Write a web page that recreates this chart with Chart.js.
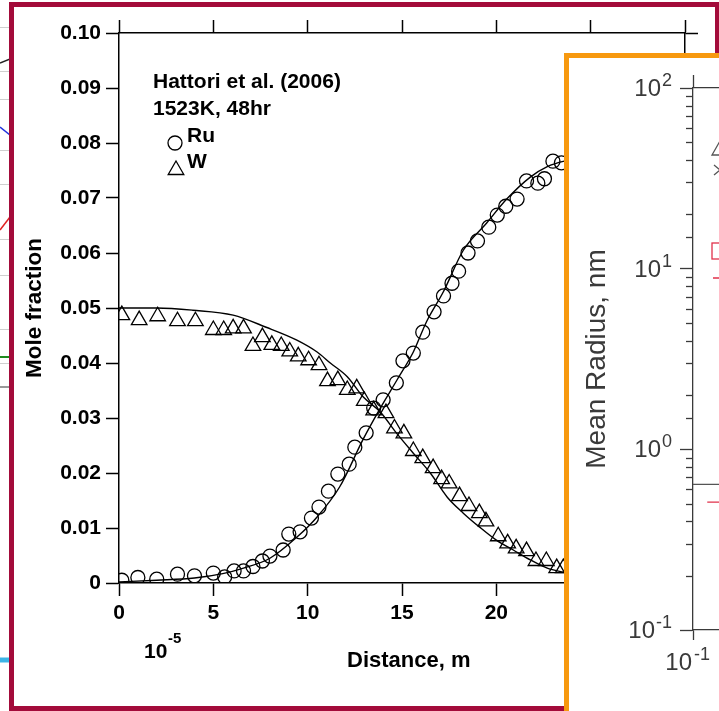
<!DOCTYPE html>
<html>
<head>
<meta charset="utf-8">
<script src="https://cdn.jsdelivr.net/npm/chart.js@4.4.1/dist/chart.umd.min.js"></script>
<style>
  html, body { margin: 0; padding: 0; background: #fff; overflow: hidden; }
  body { width: 719px; height: 711px; position: relative; }
  #bgWrap { position: absolute; left: 0; top: 0; width: 20px; height: 711px; z-index: 0; }
  #mainBox { position: absolute; left: 9px; top: 2px; width: 711px; height: 709px; box-sizing: border-box;
             border: 5px solid #a30b3a; background: #fff; z-index: 1; }
  #mainBox canvas { position: absolute; left: 0; top: 0; }
  #panelBox { position: absolute; left: 564px; top: 53px; width: 300px; height: 700px; box-sizing: border-box;
              border: 5px solid #f7990f; background: #fff; overflow: hidden; z-index: 2; }
  #panelBox canvas { position: absolute; left: 0; top: 0; filter: blur(0.4px); }
</style>
</head>
<body>
<div id="bgWrap"><canvas id="bgChart" width="20" height="711"></canvas></div>
<div id="mainBox"><canvas id="mainChart" width="701" height="699"></canvas></div>
<div id="panelBox"><canvas id="panelChart" width="700" height="690"></canvas></div>

<script>
const FONT = '"Liberation Sans", Arial, Helvetica, sans-serif';
Chart.defaults.font.family = FONT;
Chart.defaults.color = '#000';

// Hattori et al. (2006), 1523K 48hr - measured profiles
const ruDistance = [0.15, 1.0, 2.0, 3.1, 4.0, 5.0, 5.6, 6.1, 6.6, 7.1, 7.6, 8.0, 8.7, 9.0, 9.6, 10.2, 10.6, 11.1,
  11.6, 12.2, 12.5, 13.1, 13.5, 14.0, 14.7, 15.05, 15.6, 16.1, 16.7, 17.2, 17.65, 18.0, 18.5, 19.0, 19.6,
  20.05, 20.5, 21.1, 21.6, 22.2, 22.55, 23.0, 23.45];
const ruFraction = [0.0005, 0.001, 0.0007, 0.0016, 0.0013, 0.0018, 0.0011, 0.0022, 0.0022, 0.003, 0.004, 0.0049,
  0.006, 0.0089, 0.0093, 0.0118, 0.0138, 0.0167, 0.0198, 0.0216, 0.0247, 0.0273, 0.0318, 0.0333, 0.0364,
  0.0404, 0.0418, 0.0456, 0.0493, 0.0522, 0.0545, 0.0567, 0.06, 0.0622, 0.0647, 0.0669, 0.0685, 0.0698,
  0.0731, 0.0727, 0.0735, 0.0767, 0.0764];

const wDistance = [0.15, 1.07, 2.05, 3.1, 4.05, 5.0, 5.55, 6.05, 6.6, 7.1, 7.6, 8.1, 8.6, 9.05, 9.5, 10.05, 10.6,
  11.05, 11.6, 12.1, 12.6, 13.0, 13.5, 14.15, 14.6, 15.1, 15.6, 16.1, 16.65, 17.1, 17.5, 18.05, 18.55, 19.1,
  19.45, 20.1, 20.6, 21.05, 21.6, 22.1, 22.65, 23.2, 23.55];
const wFraction = [0.0487, 0.0478, 0.0485, 0.0476, 0.0476, 0.046, 0.046, 0.0463, 0.0463, 0.0431, 0.0447, 0.0433,
  0.0431, 0.0421, 0.0412, 0.0405, 0.0396, 0.0367, 0.0369, 0.0351, 0.0354, 0.0331, 0.0314, 0.0309, 0.0281,
  0.0272, 0.024, 0.0227, 0.0209, 0.0189, 0.0181, 0.0158, 0.014, 0.0127, 0.0112, 0.0085, 0.0072, 0.0063,
  0.0058, 0.004, 0.004, 0.0027, 0.0027];

// calculated profiles
const ruFitDistance = [0, 2, 4, 5.5, 6.6, 8.0, 9.45, 10.5, 11.7, 12.95, 13.85, 14.75, 15.6, 16.3, 17.2, 18.25,
  19.5, 20.55, 21.8, 22.7, 23.6, 24.5];
const ruFitFraction = [0.0002, 0.0005, 0.0009, 0.0017, 0.0027, 0.0045, 0.0084, 0.012, 0.0175, 0.0262, 0.0318,
  0.037, 0.042, 0.0475, 0.053, 0.0605, 0.0655, 0.0698, 0.0738, 0.0757, 0.0767, 0.0772];
const wFitDistance = [0, 2, 3.9, 6.05, 7.8, 9.4, 10.5, 11.2, 12.1, 12.95, 13.85, 14.7, 15.6, 16.5, 17.4, 18.25,
  19.1, 20.0, 20.9, 21.8, 22.7, 23.5, 24.5];
const wFitFraction = [0.05, 0.05, 0.0496, 0.0487, 0.0465, 0.0442, 0.042, 0.040, 0.0375, 0.0338, 0.0311, 0.0273,
  0.0236, 0.02, 0.0156, 0.0127, 0.0102, 0.0078, 0.006, 0.0042, 0.0027, 0.002, 0.0015];

const distanceTicks = [0, 5, 10, 15, 20, 25, 30];
const fractionStep = 0.01;

// inset: mean radius panel (log-log)
const panelDecades = [0.1, 1, 10, 100];
const panelExponents = ['-1', '0', '1', '2'];
const seriesATime = [0.1, 100];
const seriesARadius = [0.64, 0.64];
const seriesBTime = [0.12, 100];
const seriesBRadius = [0.51, 0.51];

// neighbouring plot peeking out on the left
const bgX = [0, 2];
const bgBlack = [64.8, 65.6];
const bgBlue = [58.4, 56.8];
const bgRed = [48.1, 50.7];
const bgGreen = [35.4, 35.4];
const bgGray = [32.4, 32.4];
const bgCyan = [5.1, 5.1];
const bgGridLevels = [68.3, 63.9, 61.1, 56.0, 52.6, 47.1, 43.6, 38.1, 34.8];

const pts = (xs, ys) => xs.map((x, i) => ({ x, y: ys[i] }));

// ---------- left background plot ----------
const bgLine = (ys, color, width) => ({
  data: pts(bgX, ys), showLine: true, borderColor: color, borderWidth: width, pointRadius: 0
});
new Chart(document.getElementById('bgChart'), {
  type: 'scatter',
  data: { datasets: [
    bgLine(bgBlack, '#222', 1.5), bgLine(bgBlue, '#2233dd', 1.5), bgLine(bgRed, '#e02020', 1.5),
    bgLine(bgGreen, '#1f8a1f', 2), bgLine(bgGray, '#777', 1.5), bgLine(bgCyan, '#3cb4e6', 5)
  ]},
  options: {
    responsive: false, animation: false, events: [],
    plugins: { legend: { display: false }, tooltip: { enabled: false } },
    layout: { padding: 0 },
    scales: {
      x: { type: 'linear', min: 0, max: 2, display: false },
      y: { type: 'linear', min: 0, max: 71.1,
           ticks: { display: false },
           afterBuildTicks: s => { s.ticks = bgGridLevels.map(v => ({ value: v })); },
           grid: { drawTicks: false, color: '#cfcfcf', lineWidth: 1, borderDash: [1, 3] },
           border: { display: false } }
    }
  }
});

// ---------- main plot ----------
const axisGrid = { drawOnChartArea: false, tickLength: 13, tickWidth: 1.5, tickColor: '#000' };
const axisBorder = { color: '#000', width: 1.5 };
const tickFont = { family: FONT, size: 21, weight: 'bold' };

const annotate = {
  id: 'annotate',
  afterDraw(chart) {
    const { ctx, chartArea: a } = chart;
    ctx.save();
    ctx.fillStyle = '#000';
    ctx.strokeStyle = '#000';
    ctx.textAlign = 'left';
    ctx.textBaseline = 'alphabetic';
    ctx.font = 'bold 21px ' + FONT;
    ctx.fillText('Hattori et al. (2006)', a.left + 34, a.top + 55);
    ctx.fillText('1523K, 48hr', a.left + 34, a.top + 82);
    ctx.fillText('Ru', a.left + 68, a.top + 109);
    ctx.fillText('W', a.left + 68, a.top + 135);

    ctx.lineWidth = 1.3;
    ctx.beginPath();
    ctx.arc(a.left + 56, a.top + 110, 7, 0, Math.PI * 2);
    ctx.stroke();
    const tx = a.left + 57, ty = a.top + 137, r = 9;
    ctx.beginPath();
    ctx.moveTo(tx, ty - r);
    ctx.lineTo(tx + Math.sin(2 * Math.PI / 3) * r, ty + r / 2);
    ctx.lineTo(tx - Math.sin(2 * Math.PI / 3) * r, ty + r / 2);
    ctx.closePath();
    ctx.stroke();

    ctx.font = 'bold 21px ' + FONT;
    ctx.fillText('10', a.left + 25, a.bottom + 75);
    ctx.font = 'bold 22px ' + FONT;
    ctx.fillText('Distance, m', a.left + 228, a.bottom + 84);
    ctx.font = 'bold 15px ' + FONT;
    ctx.fillText('-5', a.left + 49, a.bottom + 60);
    ctx.restore();
  }
};

new Chart(document.getElementById('mainChart'), {
  type: 'scatter',
  data: { datasets: [
    { label: 'Ru', data: pts(ruDistance, ruFraction), pointStyle: 'circle', pointRadius: 7,
      pointBorderWidth: 1.3, pointBorderColor: '#000', pointBackgroundColor: 'rgba(0,0,0,0)' },
    { label: 'W', data: pts(wDistance, wFraction), pointStyle: 'triangle', pointRadius: 9,
      pointBorderWidth: 1.3, pointBorderColor: '#000', pointBackgroundColor: 'rgba(0,0,0,0)' },
    { label: 'Ru calc', data: pts(ruFitDistance, ruFitFraction), showLine: true, pointRadius: 0,
      borderColor: '#000', borderWidth: 1.4, cubicInterpolationMode: 'monotone' },
    { label: 'W calc', data: pts(wFitDistance, wFitFraction), showLine: true, pointRadius: 0,
      borderColor: '#000', borderWidth: 1.4, cubicInterpolationMode: 'monotone' }
  ]},
  options: {
    responsive: false, animation: false, events: [],
    plugins: { legend: { display: false }, tooltip: { enabled: false } },
    layout: { padding: 0 },
    scales: {
      x: { type: 'linear', position: 'bottom', min: 0, max: 30,
           afterBuildTicks: s => { s.ticks = distanceTicks.map(v => ({ value: v })); },
           ticks: { font: tickFont, color: '#000', padding: 5, maxRotation: 0 },
           grid: axisGrid, border: axisBorder,
           afterFit: s => { s.height = 123; } },
      x2: { type: 'linear', position: 'top', min: 0, max: 30,
            afterBuildTicks: s => { s.ticks = distanceTicks.map(v => ({ value: v })); },
            ticks: { display: false },
            grid: axisGrid, border: axisBorder,
            afterFit: s => { s.height = 26; } },
      y: { type: 'linear', position: 'left', min: 0, max: 0.1,
           ticks: { stepSize: fractionStep, font: tickFont, color: '#000', padding: 5,
                    callback: v => (v === 0 ? '0' : v.toFixed(2)) },
           title: { display: true, text: 'Mole fraction', color: '#000',
                    font: { family: FONT, size: 22.5, weight: 'bold' }, padding: { top: 7, bottom: 0 } },
           grid: axisGrid, border: axisBorder,
           afterFit: s => { s.width = 105; } },
      y2: { type: 'linear', position: 'right', min: 0, max: 0.1,
            ticks: { display: false, stepSize: fractionStep },
            grid: axisGrid, border: axisBorder,
            afterFit: s => { s.width = 30; } }
    }
  },
  plugins: [annotate]
});

// ---------- inset: mean radius ----------
const INK = '#3a3a3a';
const majorOnly = c => (c.tick && c.tick.major ? INK : 'rgba(0,0,0,0)');

const panelLabels = {
  id: 'panelLabels',
  afterDraw(chart) {
    const { ctx, chartArea: a, scales } = chart;
    const ys = scales.y, xs = scales.x;
    ctx.save();
    ctx.strokeStyle = INK;
    ctx.fillStyle = INK;
    ctx.lineWidth = 1.3;
    // minor ticks on the radius axis
    ys.ticks.forEach(t => {
      if (t.major) return;
      const py = Math.round(ys.getPixelForValue(t.value)) + 0.5;
      ctx.beginPath();
      ctx.moveTo(a.left - 7, py);
      ctx.lineTo(a.left, py);
      ctx.stroke();
    });
    // decade labels
    ctx.textBaseline = 'alphabetic';
    panelDecades.forEach((v, i) => {
      const py = ys.getPixelForValue(v);
      const right = a.left - 21;
      ctx.textAlign = 'right';
      ctx.font = '18px ' + FONT;
      ctx.fillText(panelExponents[i], right, py - 2);
      const w = ctx.measureText(panelExponents[i]).width;
      ctx.font = '24px ' + FONT;
      ctx.fillText('10', right - w - 1, py + 8);
    });
    const px = xs.getPixelForValue(panelDecades[0]);
    ctx.textAlign = 'right';
    ctx.font = '24px ' + FONT;
    ctx.fillText('10', px - 1, a.bottom + 40);
    ctx.textAlign = 'left';
    ctx.font = '18px ' + FONT;
    ctx.fillText(panelExponents[0], px + 1, a.bottom + 30);

    // legend symbols
    const lx = a.left + 27;
    ctx.strokeStyle = '#555';
    ctx.beginPath();
    ctx.moveTo(lx, a.top + 53);
    ctx.lineTo(lx + 8, a.top + 67);
    ctx.lineTo(lx - 8, a.top + 67);
    ctx.closePath();
    ctx.stroke();
    ctx.beginPath();
    ctx.moveTo(lx - 6, a.top + 77); ctx.lineTo(lx + 6, a.top + 87);
    ctx.moveTo(lx + 6, a.top + 77); ctx.lineTo(lx - 6, a.top + 87);
    ctx.stroke();
    ctx.strokeStyle = '#e0304a';
    ctx.strokeRect(lx - 8, a.top + 155, 16, 16);
    ctx.beginPath();
    ctx.moveTo(a.left + 20, a.top + 190);
    ctx.lineTo(a.left + 60, a.top + 190);
    ctx.stroke();
    ctx.restore();
  }
};

new Chart(document.getElementById('panelChart'), {
  type: 'scatter',
  data: { datasets: [
    { data: pts(seriesATime, seriesARadius), showLine: true, borderColor: '#555', borderWidth: 1.4, pointRadius: 0 },
    { data: pts(seriesBTime, seriesBRadius), showLine: true, borderColor: '#e0304a', borderWidth: 1.4, pointRadius: 0 }
  ]},
  options: {
    responsive: false, animation: false, events: [],
    plugins: { legend: { display: false }, tooltip: { enabled: false } },
    layout: { padding: { right: 36 } },
    scales: {
      x: { type: 'logarithmic', position: 'bottom', min: 0.1, max: 100,
           ticks: { display: false },
           grid: { drawOnChartArea: false, tickLength: 10, tickWidth: 1.3, tickColor: majorOnly },
           border: { color: INK, width: 1.3 },
           afterFit: s => { s.height = 118; } },
      x2: { type: 'logarithmic', position: 'top', min: 0.1, max: 100,
            ticks: { display: false },
            grid: { drawOnChartArea: false, tickLength: 13, tickWidth: 1.3, tickColor: majorOnly },
            border: { color: INK, width: 1.3 },
            afterFit: s => { s.height = 30; } },
      y: { type: 'logarithmic', position: 'left', min: 0.1, max: 100,
           ticks: { display: false },
           title: { display: true, text: 'Mean Radius, nm', color: INK,
                    font: { family: FONT, size: 28 }, padding: { top: 11, bottom: 0 } },
           grid: { drawOnChartArea: false, tickLength: 13, tickWidth: 1.3, tickColor: majorOnly },
           border: { color: INK, width: 1.3 },
           afterFit: s => { s.width = 124; } }
    }
  },
  plugins: [panelLabels]
});
</script>
</body>
</html>
